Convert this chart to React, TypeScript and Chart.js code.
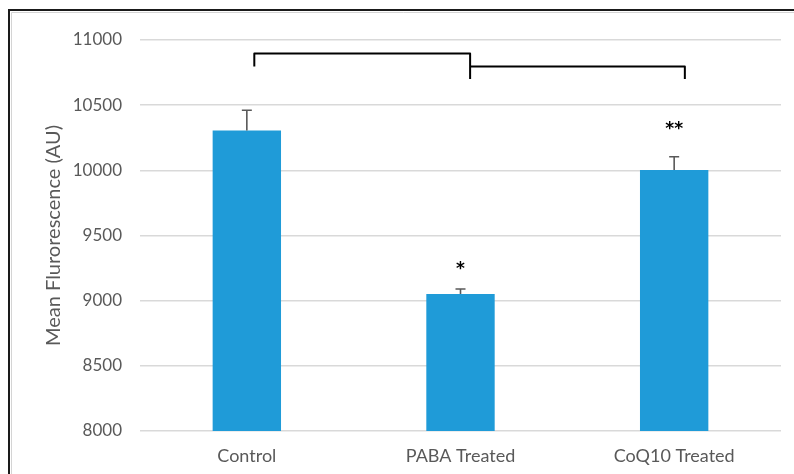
import React, { useEffect, useRef } from "react";
import { Chart, registerables } from "chart.js";

Chart.register(...registerables);

const categories = ["Control", "PABA Treated", "CoQ10 Treated"];
const meanValues = [10305, 9051, 10003];
const errorValues = [156, 39, 101];
const starLabels = ["", "*", "**"];
const starValues = [0, 9262, 10336];
const yTicks = [8000, 8500, 9000, 9500, 10000, 10500, 11000];
// brackets: [fromIndex, toIndex, topValue, leftEndValue, rightEndValue]
const bracketFrom = [0.035, 1.045];
const bracketTo = [1.045, 2.05];
const bracketTop = [10896, 10796];
const bracketLeftEnd = [10796, 10796];
const bracketRightEnd = [10700, 10700];

const FONT = "Lato, 'Open Sans', sans-serif";

const overlayPlugin = {
  id: "overlay",
  beforeDraw(chart: any) {
    const ctx = chart.ctx;
    ctx.save();
    ctx.fillStyle = "#ffffff";
    ctx.fillRect(0, 0, chart.width, chart.height);
    ctx.restore();
  },
  afterDatasetsDraw(chart: any) {
    const ctx = chart.ctx;
    const xs = chart.scales.x;
    const ys = chart.scales.y;
    ctx.save();
    // error bars
    ctx.strokeStyle = "#595959";
    ctx.lineWidth = 1.6;
    meanValues.forEach((v, i) => {
      const x = xs.getPixelForValue(i);
      const y0 = ys.getPixelForValue(v);
      const y1 = ys.getPixelForValue(v + errorValues[i]);
      ctx.beginPath();
      ctx.moveTo(x, y0);
      ctx.lineTo(x, y1);
      ctx.moveTo(x - 5, y1);
      ctx.lineTo(x + 5, y1);
      ctx.stroke();
    });
    // stars
    ctx.fillStyle = "#000000";
    ctx.font = "bold 17px 'DejaVu Sans', sans-serif";
    ctx.textAlign = "center";
    ctx.textBaseline = "middle";
    starLabels.forEach((s, i) => {
      if (!s) return;
      ctx.fillText(s, xs.getPixelForValue(i), ys.getPixelForValue(starValues[i]) + 3);
    });
    // brackets
    ctx.strokeStyle = "#000000";
    ctx.lineWidth = 2;
    ctx.lineJoin = "round";
    bracketFrom.forEach((f, i) => {
      const x0 = xs.getPixelForValue(f);
      const x1 = xs.getPixelForValue(bracketTo[i]);
      const yt = ys.getPixelForValue(bracketTop[i]);
      ctx.beginPath();
      ctx.moveTo(x0, ys.getPixelForValue(bracketLeftEnd[i]));
      ctx.lineTo(x0, yt);
      ctx.lineTo(x1, yt);
      ctx.lineTo(x1, ys.getPixelForValue(bracketRightEnd[i]));
      ctx.stroke();
    });
    ctx.restore();
  },
  afterDraw(chart: any) {
    const ctx = chart.ctx;
    ctx.save();
    ctx.strokeStyle = "#1a1a1a";
    ctx.lineWidth = 2;
    ctx.beginPath();
    ctx.moveTo(9, chart.height + 5);
    ctx.lineTo(9, 10);
    ctx.lineTo(chart.width + 5, 10);
    ctx.stroke();
    ctx.strokeStyle = "#d4d4d4";
    ctx.lineWidth = 1;
    ctx.beginPath();
    ctx.moveTo(11.5, chart.height + 5);
    ctx.lineTo(11.5, 12.5);
    ctx.lineTo(chart.width + 5, 12.5);
    ctx.stroke();
    ctx.restore();
  },
};

export default function App() {
  const ref = useRef<HTMLCanvasElement>(null);
  useEffect(() => {
    if (!ref.current) return;
    const chart = new Chart(ref.current, {
      type: "bar",
      data: {
        labels: categories,
        datasets: [
          {
            data: meanValues,
            backgroundColor: "#1f9bd8",
            borderWidth: 0,
            barPercentage: 0.32,
            categoryPercentage: 1,
          },
        ],
      },
      options: {
        animation: false,
        responsive: false,
        maintainAspectRatio: false,
        layout: { padding: { left: 0, right: 13, top: 40, bottom: 0 } },
        plugins: { legend: { display: false }, tooltip: { enabled: false } },
        scales: {
          x: {
            grid: { display: false, drawTicks: false },
            border: { display: false },
            ticks: { color: "#595959", font: { family: FONT, size: 18 }, padding: 14 },
            afterFit: (s: any) => { s.height = 43; },
          },
          y: {
            min: 8000,
            max: 11000,
            afterBuildTicks: (s: any) => { s.ticks = yTicks.map((v) => ({ value: v })); },
            grid: { color: "#d9d9d9", lineWidth: 1.5, drawTicks: false },
            border: { display: false },
            ticks: {
              color: "#595959",
              font: { family: FONT, size: 17 },
              padding: 18,
              callback: (v: any) => String(v),
            },
            title: {
              display: true,
              text: "Mean Flurorescence (AU)",
              color: "#595959",
              font: { family: FONT, size: 20 },
              padding: { top: 42, bottom: 0 },
            },
            afterFit: (s: any) => { s.width = 140; },
          },
        },
      },
      plugins: [overlayPlugin],
    });
    return () => chart.destroy();
  }, []);
  return (
    <div style={{ position: "fixed", left: 0, top: 0, width: 794, height: 474 }}>
      <canvas ref={ref} width={794} height={474} style={{ display: "block" }} />
    </div>
  );
}
